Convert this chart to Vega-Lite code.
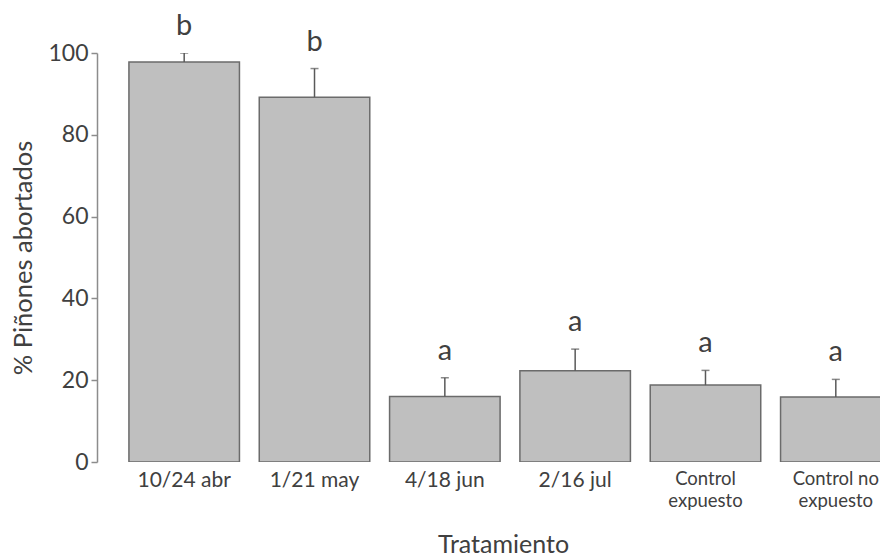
{
  "$schema": "https://vega.github.io/schema/vega-lite/v6.json",
  "autosize": {"type": "none"},
  "width": 783,
  "height": 409,
  "padding": {"left": 97, "top": 53, "right": 0, "bottom": 96},
  "background": "white",
  "config": {
    "view": {"stroke": null},
    "font": "Lato",
    "axis": {"labelColor": "#404040", "titleColor": "#404040", "titleFontWeight": "normal", "labelFont": "Lato", "titleFont": "Lato"}
  },
  "data": {
    "values": [
      {"tratamiento": "10/24 abr", "valor": 97.8, "error": 100.0, "letra": "b"},
      {"tratamiento": "1/21 may", "valor": 89.2, "error": 96.2, "letra": "b"},
      {"tratamiento": "4/18 jun", "valor": 16.0, "error": 20.6, "letra": "a"},
      {"tratamiento": "2/16 jul", "valor": 22.3, "error": 27.6, "letra": "a"},
      {"tratamiento": "Control expuesto", "valor": 18.8, "error": 22.4, "letra": "a"},
      {"tratamiento": "Control no expuesto", "valor": 15.9, "error": 20.2, "letra": "a"}
    ]
  },
  "encoding": {
    "x": {
      "field": "tratamiento",
      "type": "nominal",
      "sort": null,
      "title": "Tratamiento",
      "scale": {"range": [0, 826], "paddingInner": 0.152, "paddingOuter": 0.245},
      "axis": {
        "domain": false,
        "ticks": false,
        "labelAngle": 0,
        "labelFontSize": {"expr": "indexof(datum.value, 'Control') == 0 ? 18.5 : 21"},
        "labelLineHeight": 22,
        "labelPadding": 7,
        "labelExpr": "datum.value == 'Control expuesto' ? ['Control', 'expuesto'] : datum.value == 'Control no expuesto' ? ['Control no', 'expuesto'] : datum.value",
        "titleFontSize": 25,
        "titlePadding": 23,
        "titleX": 406
      }
    }
  },
  "layer": [
    {
      "mark": {"type": "bar", "fill": "#bfbfbf", "stroke": "#6b6b6b", "strokeWidth": 1.5, "clip": true},
      "encoding": {
        "y": {
          "field": "valor",
          "type": "quantitative",
          "title": "% Piñones abortados",
          "scale": {"domain": [0, 100], "nice": false},
          "axis": {
            "values": [0, 20, 40, 60, 80, 100],
            "grid": false,
            "domainColor": "#8c8c8c",
            "domainWidth": 1.5,
            "tickColor": "#8c8c8c",
            "tickWidth": 1.5,
            "tickSize": 6,
            "labelFontSize": 23,
            "labelPadding": 3,
            "titleFontSize": 25.5,
            "titlePadding": 11
          }
        }
      }
    },
    {
      "mark": {"type": "rule", "color": "#595959", "strokeWidth": 1.5, "clip": true},
      "encoding": {
        "y": {"field": "valor", "type": "quantitative"},
        "y2": {"field": "error"}
      }
    },
    {
      "mark": {"type": "tick", "color": "#595959", "thickness": 1.5, "size": 8, "clip": true},
      "encoding": {
        "y": {"field": "error", "type": "quantitative"}
      }
    },
    {
      "mark": {"type": "text", "fontSize": 29, "color": "#404040", "baseline": "bottom", "dy": -12},
      "encoding": {
        "y": {"field": "error", "type": "quantitative"},
        "text": {"field": "letra"}
      }
    }
  ]
}
